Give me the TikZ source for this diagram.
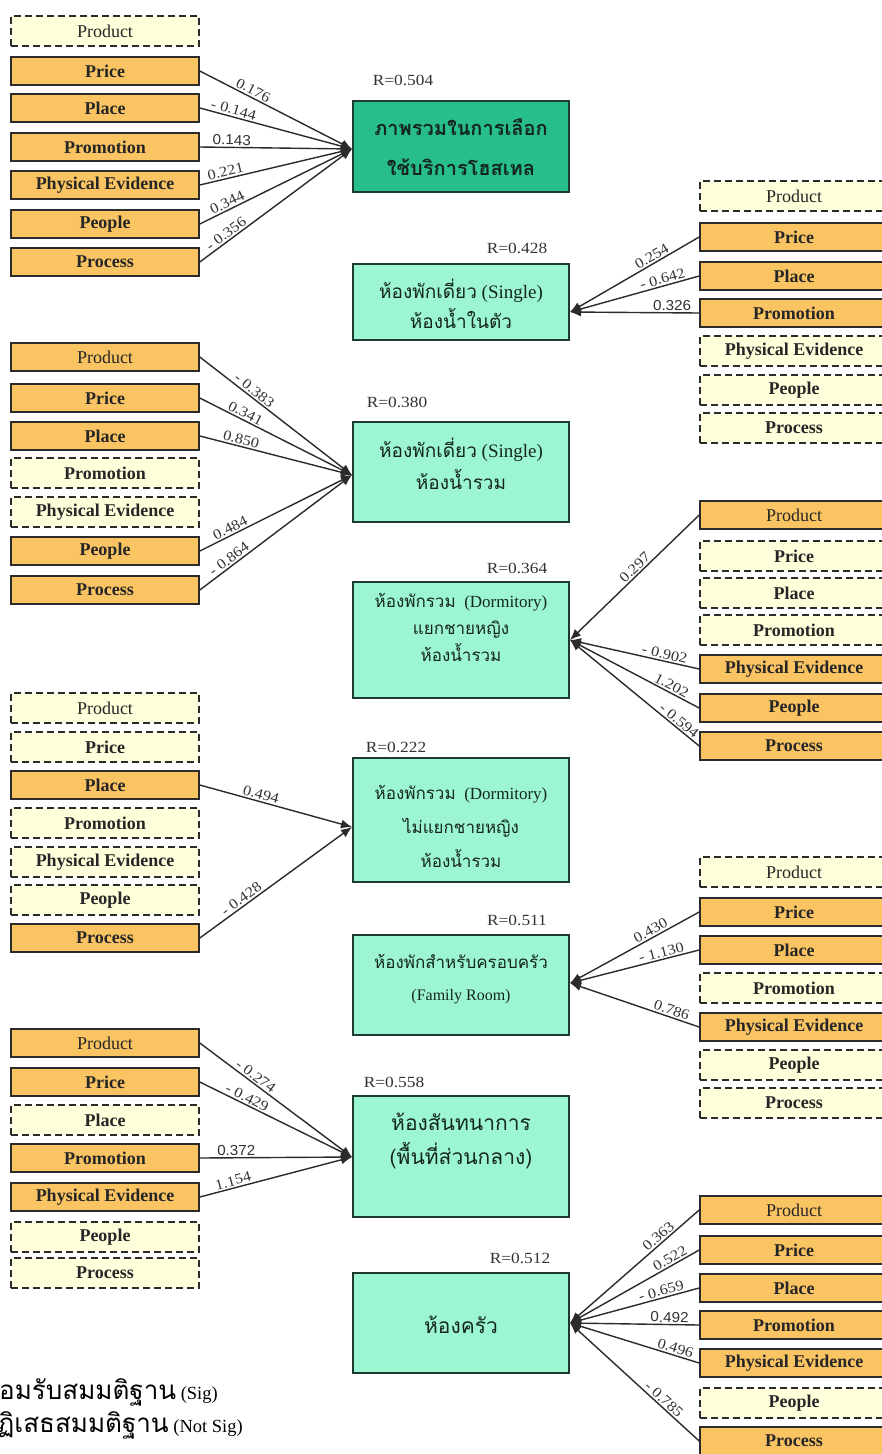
\documentclass[tikz,border=0pt]{standalone}
\usepackage{fontspec}
\setmainfont{Liberation Serif}
\newfontfamily\thaifont[Script=Thai]{Loma}
\newfontfamily\numfont[FakeStretch=1.12]{Liberation Serif}
\newfontfamily\numsans[FakeStretch=1.05]{Liberation Sans}
\usetikzlibrary{arrows.meta}
\definecolor{sigfill}{HTML}{FAC463}
\definecolor{nsigfill}{HTML}{FFFFDC}
\definecolor{edgecol}{HTML}{2B2B2B}
\definecolor{mainfill}{HTML}{27BD8C}
\definecolor{roomfill}{HTML}{9DF6D2}
\definecolor{roomedge}{HTML}{1F3A30}
\definecolor{roomtext}{HTML}{14261E}
\begin{document}
\begin{tikzpicture}[x=1pt,y=-1pt,
  factor/.style={rectangle, draw=edgecol, line width=1.6pt, minimum width=188pt,
    minimum height=28pt, inner sep=0pt, text=black!85,
    font=\fontsize{18}{20}\selectfont\bfseries},
  sigbox/.style={factor, fill=sigfill},
  nsigbox/.style={factor, fill=nsigfill, dash pattern=on 7pt off 4pt, minimum height=30pt},
  room/.style={rectangle, draw=roomedge, line width=1.6pt, fill=roomfill, inner sep=0pt,
    minimum width=216pt},
  roomlab/.style={align=center, text=roomtext, inner sep=0pt},
  rval/.style={font=\numfont\fontsize{15.5}{17}\selectfont, text=black!80, inner sep=0pt},
  conn/.style={draw=edgecol, line width=1.4pt, -{Latex[length=11pt,width=9pt]}},
  coef/.style={font=\numfont\fontsize{14.5}{16}\selectfont, text=black!80, sloped, above, inner sep=1.5pt},
  coefh/.style={coef, font=\numsans\fontsize{14.5}{16}\selectfont},
  legend/.style={anchor=east, inner sep=0pt, font=\fontsize{18.5}{22}\selectfont, text=black},
]
\useasboundingbox (0,0) rectangle (882,1454);
\clip (0,0) rectangle (882,1454);
\fill[white] (0,0) rectangle (882,1454);

% ---------- dependent variables (room types) ----------
\node[room, fill=mainfill, minimum height=91pt] (r1) at (461,146.5) {};
\node[room, minimum height=76pt]  (r2) at (461,302) {};
\node[room, minimum height=100pt] (r3) at (461,472) {};
\node[room, minimum height=116pt] (r4) at (461,640) {};
\node[room, minimum height=124pt] (r5) at (461,820) {};
\node[room, minimum height=100pt] (r6) at (461,985) {};
\node[room, minimum height=121pt] (r7) at (461,1156.5) {};
\node[room, minimum height=100pt] (r8) at (461,1323) {};

\node[roomlab, font=\thaifont\bfseries\fontsize{20}{40}\selectfont] (r1t) at (461,147)
  {ภาพรวมในการเลือก\\ใช้บริการโฮสเทล};
\node[roomlab, font=\fontsize{19}{30}\selectfont] (r2t) at (461,304)
  {{\thaifont ห้องพักเดี่ยว}~(Single)\\{\thaifont ห้องน้ำในตัว}};
\node[roomlab, font=\fontsize{19}{32}\selectfont] (r3t) at (461,464)
  {{\thaifont ห้องพักเดี่ยว}~(Single)\\{\thaifont ห้องน้ำรวม}};
\node[roomlab, font=\fontsize{17}{27}\selectfont] (r4t) at (461,627)
  {{\thaifont ห้องพักรวม}~ (Dormitory)\\{\thaifont แยกชายหญิง}\\{\thaifont ห้องน้ำรวม}};
\node[roomlab, font=\fontsize{17}{34}\selectfont] (r5t) at (461,826)
  {{\thaifont ห้องพักรวม}~ (Dormitory)\\{\thaifont ไม่แยกชายหญิง}\\{\thaifont ห้องน้ำรวม}};
\node[roomlab, font=\fontsize{17}{32}\selectfont] (r6t) at (461,979)
  {{\thaifont ห้องพักสำหรับครอบครัว}\\{\fontsize{16}{18}\selectfont (Family Room)}};
\node[roomlab, font=\thaifont\fontsize{21}{34}\selectfont] (r7t) at (461,1141)
  {ห้องสันทนาการ\\(พื้นที่ส่วนกลาง)};
\node[roomlab, font=\thaifont\fontsize{21}{30}\selectfont] (r8t) at (461,1325)
  {ห้องครัว};

% ---------- R values ----------
\node[rval] (rv1) at (403,80) {R=0.504};
\node[rval] (rv2) at (517,248) {R=0.428};
\node[rval] (rv3) at (397,402) {R=0.380};
\node[rval] (rv4) at (517,568) {R=0.364};
\node[rval] (rv5) at (396,747) {R=0.222};
\node[rval] (rv6) at (517,920) {R=0.511};
\node[rval] (rv7) at (394,1082) {R=0.558};
\node[rval] (rv8) at (520,1258) {R=0.512};

% ---------- arrow meeting points ----------
\coordinate (t1) at (352,149);
\coordinate (t2) at (570,312);
\coordinate (t3) at (352,475);
\coordinate (t4) at (570,640);
\coordinate (t5) at (352,827);
\coordinate (t6) at (570,983);
\coordinate (t7) at (352,1157);
\coordinate (t8) at (570,1323);

% ---------- group 1 (left) ----------
\node[nsigbox] (a1) at (105,31)  {\mdseries Product};
\node[sigbox]  (a2) at (105,71)  {Price};
\node[sigbox]  (a3) at (105,108) {Place};
\node[sigbox]  (a4) at (105,147) {Promotion};
\node[sigbox]  (a5) at (105,185) {Physical Evidence};
\node[sigbox]  (a6) at (105,224) {People};
\node[sigbox]  (a7) at (105,262) {Process};
\draw[conn] (a2.east) -- (t1) node[coef,pos=.33] {0.176};
\draw[conn] (a3.east) -- (t1) node[coef,pos=.21] {- 0.144};
\draw[conn] (a4.east) -- (t1) node[coefh,pos=.21] {0.143};
\draw[conn] (a5.east) -- (t1) node[coef,pos=.18] {0.221};
\draw[conn] (a6.east) -- (t1) node[coef,pos=.2] {0.344};
\draw[conn] (a7.east) -- (t1) node[coef,pos=.2] {- 0.356};

% ---------- group 2 (right) ----------
\node[nsigbox] (b1) at (794,196) {\mdseries Product};
\node[sigbox]  (b2) at (794,237) {Price};
\node[sigbox]  (b3) at (794,276) {Place};
\node[sigbox]  (b4) at (794,313) {Promotion};
\node[nsigbox] (b5) at (794,351) {Physical Evidence};
\node[nsigbox] (b6) at (794,390) {People};
\node[nsigbox] (b7) at (794,428) {Process};
\draw[conn] (b2.west) -- (t2) node[coef,pos=.34] {0.254};
\draw[conn] (b3.west) -- (t2) node[coef,pos=.27] {- 0.642};
\draw[conn] (b4.west) -- (t2) node[coefh,pos=.21] {0.326};

% ---------- group 3 (left) ----------
\node[sigbox]  (c1) at (105,357) {\mdseries Product};
\node[sigbox]  (c2) at (105,398) {Price};
\node[sigbox]  (c3) at (105,436) {Place};
\node[nsigbox] (c4) at (105,473) {Promotion};
\node[nsigbox] (c5) at (105,512) {Physical Evidence};
\node[sigbox]  (c6) at (105,551) {People};
\node[sigbox]  (c7) at (105,590) {Process};
\draw[conn] (c1.east) -- (t3) node[coef,pos=.33] {- 0.383};
\draw[conn] (c2.east) -- (t3) node[coef,pos=.28] {0.341};
\draw[conn] (c3.east) -- (t3) node[coef,pos=.26] {0.850};
\draw[conn] (c6.east) -- (t3) node[coef,pos=.22] {0.484};
\draw[conn] (c7.east) -- (t3) node[coef,pos=.22] {- 0.864};

% ---------- group 4 (right) ----------
\node[sigbox]  (d1) at (794,515) {\mdseries Product};
\node[nsigbox] (d2) at (794,556) {Price};
\node[nsigbox] (d3) at (794,593) {Place};
\node[nsigbox] (d4) at (794,630) {Promotion};
\node[sigbox]  (d5) at (794,669) {Physical Evidence};
\node[sigbox]  (d6) at (794,708) {People};
\node[sigbox]  (d7) at (794,746) {Process};
\draw[conn] (d1.west) -- (t4) node[coef,pos=.46] {0.297};
\draw[conn] (d5.west) -- (t4) node[coef,pos=.28] {- 0.902};
\draw[conn] (d6.west) -- (t4) node[coef,pos=.24] {1.202};
\draw[conn] (d7.west) -- (t4) node[coef,pos=.19] {- 0.594};

% ---------- group 5 (left) ----------
\node[nsigbox] (e1) at (105,708) {\mdseries Product};
\node[nsigbox] (e2) at (105,747) {Price};
\node[sigbox]  (e3) at (105,785) {Place};
\node[nsigbox] (e4) at (105,823) {Promotion};
\node[nsigbox] (e5) at (105,862) {Physical Evidence};
\node[nsigbox] (e6) at (105,900) {People};
\node[sigbox]  (e7) at (105,938) {Process};
\draw[conn] (e3.east) -- (t5) node[coef,pos=.39] {0.494};
\draw[conn] (e7.east) -- (t5) node[coef,pos=.3] {- 0.428};

% ---------- group 6 (right) ----------
\node[nsigbox] (f1) at (794,872)  {\mdseries Product};
\node[sigbox]  (f2) at (794,912)  {Price};
\node[sigbox]  (f3) at (794,950)  {Place};
\node[nsigbox] (f4) at (794,988)  {Promotion};
\node[sigbox]  (f5) at (794,1027) {Physical Evidence};
\node[nsigbox] (f6) at (794,1065) {People};
\node[nsigbox] (f7) at (794,1103) {Process};
\draw[conn] (f2.west) -- (t6) node[coef,pos=.35] {0.430};
\draw[conn] (f3.west) -- (t6) node[coef,pos=.28] {- 1.130};
\draw[conn] (f5.west) -- (t6) node[coef,pos=.23] {0.786};

% ---------- group 7 (left) ----------
\node[sigbox]  (g1) at (105,1043) {\mdseries Product};
\node[sigbox]  (g2) at (105,1082) {Price};
\node[nsigbox] (g3) at (105,1120) {Place};
\node[sigbox]  (g4) at (105,1158) {Promotion};
\node[sigbox]  (g5) at (105,1197) {Physical Evidence};
\node[nsigbox] (g6) at (105,1237) {People};
\node[nsigbox] (g7) at (105,1273) {Process};
\draw[conn] (g1.east) -- (t7) node[coef,pos=.34] {- 0.274};
\draw[conn] (g2.east) -- (t7) node[coef,pos=.29] {- 0.429};
\draw[conn] (g4.east) -- (t7) node[coefh,pos=.24] {0.372};
\draw[conn] (g5.east) -- (t7) node[coef,pos=.23] {1.154};

% ---------- group 8 (right) ----------
\node[sigbox]  (h1) at (794,1210) {\mdseries Product};
\node[sigbox]  (h2) at (794,1250) {Price};
\node[sigbox]  (h3) at (794,1288) {Place};
\node[sigbox]  (h4) at (794,1325) {Promotion};
\node[sigbox]  (h5) at (794,1363) {Physical Evidence};
\node[nsigbox] (h6) at (794,1403) {People};
\node[sigbox]  (h7) at (794,1441) {Process};
\draw[conn] (h1.west) -- (t8) node[coef,pos=.28] {0.363};
\draw[conn] (h2.west) -- (t8) node[coef,pos=.2] {0.522};
\draw[conn] (h3.west) -- (t8) node[coef,pos=.28] {- 0.659};
\draw[conn] (h4.west) -- (t8) node[coefh,pos=.23] {0.492};
\draw[conn] (h5.west) -- (t8) node[coef,pos=.2] {0.496};
\draw[conn] (h7.west) -- (t8) node[coef,pos=.31] {- 0.785};

% ---------- legend (runs off the left edge) ----------
\node[legend] (leg1) at (218,1392) {{\thaifont\fontsize{26}{28}\selectfont ยอมรับสมมติฐาน} (Sig)};
\node[legend] (leg2) at (243,1425) {{\thaifont\fontsize{26}{28}\selectfont ปฏิเสธสมมติฐาน} (Not Sig)};
\end{tikzpicture}
\end{document}
